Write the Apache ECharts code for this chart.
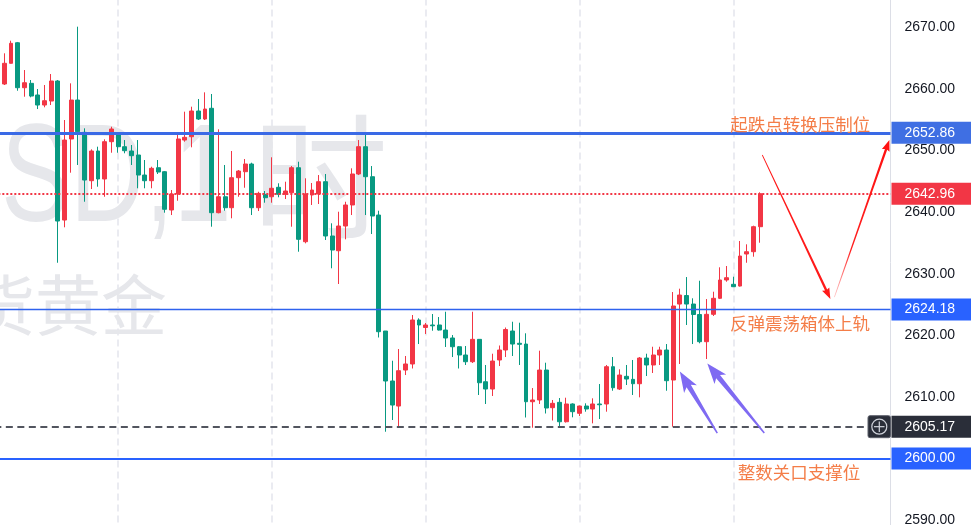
<!DOCTYPE html>
<html><head><meta charset="utf-8">
<script src="https://cdn.jsdelivr.net/npm/echarts@6/dist/echarts.min.js"></script>
<style>html,body{margin:0;padding:0;background:#fff}#c{width:971px;height:525px}</style>
</head><body><div id="c"></div>
<script>
// ---- data (XAUUSD 1H) ----
const opens = [2661.95,2660.77,2664.13,2667.47,2660.17,2660.88,2658.99,2657.36,2658.01,2661.26,
2638.70,2651.85,2658.17,2652.93,2645.08,2649.90,2645.36,2651.41,2652.49,2650.60,
2649.90,2649.25,2646.00,2645.08,2647.19,2646.54,2640.33,2642.92,2651.68,2652.22,
2656.39,2655.09,2656.83,2639.89,2642.48,2640.70,2645.57,2646.54,2647.79,2640.70,
2642.87,2642.48,2644.01,2642.87,2643.13,2647.19,2635.18,2642.76,2642.92,2644.92,
2636.11,2633.72,2637.73,2641.14,2646.17,2650.60,2645.73,2639.51,2620.69,2612.58,
2608.52,2614.36,2615.34,2622.48,2621.26,2621.67,2621.67,2620.85,2619.56,2618.14,
2616.80,2615.71,2619.34,2612.46,2611.28,2615.99,2617.61,2620.69,2618.70,2618.58,
2609.22,2609.50,2614.36,2608.25,2609.12,2605.97,2608.85,2607.34,2608.52,2608.04,
2608.85,2608.85,2614.90,2611.28,2613.34,2612.85,2612.14,2616.31,2615.18,2616.80,
2617.61,2612.74,2625.07,2626.45,2625.07,2623.37,2618.96,2623.40,2626.00,2628.97,
2628.27,2627.99,2633.19,2633.56,2637.62];
const closes = [2660.98,2664.13,2667.37,2660.17,2660.98,2658.82,2657.36,2658.06,2661.26,2638.54,
2651.68,2658.17,2653.03,2645.19,2649.90,2645.36,2651.41,2653.47,2650.60,2649.95,
2649.14,2646.00,2645.08,2647.09,2646.49,2640.44,2642.92,2651.85,2652.12,2656.39,
2655.09,2656.71,2639.89,2642.48,2640.70,2645.57,2646.65,2647.79,2640.70,2643.03,
2642.32,2643.85,2642.87,2643.41,2647.19,2635.57,2642.92,2643.57,2644.92,2636.11,
2633.83,2637.73,2641.14,2646.17,2650.60,2645.73,2639.35,2620.58,2612.58,2608.68,
2614.25,2615.34,2622.48,2621.67,2621.67,2621.54,2620.85,2619.56,2618.14,2616.80,
2615.71,2619.34,2612.30,2611.28,2615.82,2617.61,2620.94,2618.58,2618.53,2609.22,
2609.50,2614.36,2608.20,2608.96,2605.97,2608.85,2607.60,2608.52,2608.04,2608.85,
2608.73,2614.90,2611.49,2613.55,2612.90,2612.14,2616.31,2615.18,2616.80,2617.61,
2612.63,2624.75,2626.53,2625.07,2623.37,2618.96,2623.40,2626.00,2628.97,2629.34,
2627.88,2632.86,2633.56,2637.62,2642.96];
const lows = [2660.45,2660.61,2664.10,2659.68,2658.71,2658.61,2656.71,2656.99,2657.36,2631.77,
2637.52,2646.38,2647.63,2641.67,2643.73,2644.11,2642.48,2649.62,2649.62,2649.53,
2647.63,2643.85,2643.85,2643.85,2646.17,2639.89,2639.51,2641.83,2651.41,2650.50,
2654.93,2654.93,2637.62,2639.79,2640.21,2638.98,2642.48,2643.94,2639.51,2640.16,
2641.51,2641.51,2642.39,2642.11,2637.62,2633.56,2634.92,2641.14,2641.30,2635.46,
2630.87,2628.32,2635.57,2639.51,2646.00,2639.51,2636.43,2619.64,2604.35,2606.25,
2605.16,2613.55,2614.61,2618.58,2620.21,2620.74,2620.77,2618.10,2616.47,2614.61,
2615.18,2615.50,2610.31,2608.85,2610.15,2615.01,2616.47,2616.64,2615.18,2606.66,
2605.00,2608.85,2607.31,2606.17,2605.05,2605.84,2606.69,2606.90,2607.60,2605.71,
2606.41,2607.60,2611.00,2611.12,2611.93,2610.31,2609.93,2613.39,2613.88,2615.18,
2611.00,2605.17,2615.34,2621.67,2618.58,2618.70,2616.15,2623.13,2625.88,2628.69,
2627.83,2627.91,2631.77,2632.75,2635.02];
const highs = [2662.39,2665.75,2667.80,2667.59,2663.04,2661.42,2659.96,2660.61,2662.39,2661.42,
2654.93,2660.88,2670.07,2653.58,2650.17,2650.60,2651.80,2653.84,2652.77,2651.68,
2650.87,2651.68,2648.44,2647.35,2648.44,2646.65,2643.57,2652.49,2656.28,2657.09,
2658.34,2659.42,2659.15,2653.42,2647.63,2649.90,2646.82,2648.60,2648.00,2643.29,
2643.41,2648.88,2644.66,2644.92,2647.46,2648.16,2645.47,2644.71,2646.00,2646.17,
2638.17,2640.05,2641.67,2647.09,2651.68,2652.82,2647.46,2640.21,2620.69,2615.87,
2617.77,2616.64,2623.29,2622.75,2621.99,2623.45,2622.96,2623.82,2620.04,2618.26,
2618.26,2623.82,2619.39,2615.18,2617.01,2618.34,2621.26,2622.20,2622.04,2620.32,
2611.44,2617.50,2615.55,2609.50,2609.82,2609.87,2608.96,2608.60,2608.96,2609.77,
2612.09,2615.18,2616.47,2614.48,2615.18,2615.99,2616.47,2617.01,2618.14,2618.14,
2618.58,2627.02,2627.56,2629.45,2626.00,2628.85,2625.88,2627.07,2631.03,2631.24,
2629.50,2635.30,2634.76,2637.78,2643.20];
// hourly slots (gold trades 23 bars per day); extra empty slots on the right
const categories = [];
for (let k = 0; k < 134; k++) categories.push('bar' + k);
const dayStartIdx = [18, 41, 64, 87, 110];
// price levels drawn as horizontal lines
const levelResist = 2652.86, levelLast = 2642.96, levelBox = 2624.18, levelCross = 2605.17, levelRound = 2600.00;
// annotations, in data space [bar index, price]
const annotTexts = [
  {text: '起跌点转换压制位', i: 120.0, p: 2654.30},
  {text: '反弹震荡箱体上轨', i: 119.95, p: 2621.94},
  {text: '整数关口支撑位', i: 119.8, p: 2597.81}
];
const redArrows = [[114.33, 2649.25, 124.51, 2625.88], [125.11, 2626.21, 133.33, 2651.68]];
const purpleArrows = [[107.6, 2604.14, 102.0, 2614.12], [114.63, 2604.14, 106.11, 2615.42]];

const chart = echarts.init(document.getElementById('c'));
const candleData = opens.map((o, k) => [o, closes[k], lows[k], highs[k]]);
const FONT = 'Liberation Sans, Arial, sans-serif';
function lvl(v, lineColor, width, type, boxColor) {
  return {
    yAxis: v,
    lineStyle: {color: lineColor, width: width, type: type},
    label: {show: true, position: 'end', distance: 1, formatter: () => v.toFixed(2),
      color: '#ffffff', backgroundColor: boxColor, padding: [4, 18, 4, 13],
      fontSize: 14, lineHeight: 14, fontFamily: FONT}
  };
}
chart.setOption({
  animation: false,
  backgroundColor: '#ffffff',
  grid: {left: -5.67, right: 80.5, top: -34.5, bottom: -56.8, outerBoundsMode: 'none', containLabel: false},
  xAxis: {
    type: 'category', data: categories, boundaryGap: true,
    axisLine: {show: false}, axisTick: {show: false, alignWithLabel: true}, axisLabel: {show: false},
    splitLine: {show: true, alignWithLabel: true, interval: (idx) => dayStartIdx.indexOf(idx) >= 0,
      lineStyle: {color: '#e3e5ed', width: 1.5, type: [7, 4]}}
  },
  yAxis: {
    type: 'value', position: 'right', min: 2580, max: 2680, interval: 10,
    axisLine: {show: true, lineStyle: {color: '#dcdee6', width: 1}},
    axisTick: {show: false}, splitLine: {show: false},
    axisLabel: {formatter: v => v.toFixed(2), color: '#131722', fontSize: 14, fontFamily: FONT, margin: 14}
  },
  series: [{
    type: 'candlestick', data: candleData, barWidth: 4.4,
    itemStyle: {color: '#f23645', color0: '#089981', borderColor: '#f23645', borderColor0: '#089981', borderWidth: 1},
    markLine: {
      silent: true, symbol: ['none', 'none'], animation: false,
      data: [
        lvl(levelResist, '#3a6ae6', 3, 'solid', '#3f6fe3'),
        lvl(levelLast, '#f23645', 2, [2, 2], '#f23645'),
        lvl(levelBox, '#2e62ee', 1.3, 'solid', '#2962ff'),
        lvl(levelCross, '#52555f', 2, [7, 4.5], '#2a2e39'),
        lvl(levelRound, '#2962ff', 2, 'solid', '#2962ff')
      ]
    }
  }]
});

// ---- overlay graphics positioned through the chart's own scales ----
const xa = chart.convertToPixel({xAxisIndex: 0}, 0);
const xb = chart.convertToPixel({xAxisIndex: 0}, 100);
const px = i => xa + (xb - xa) * i / 100;
const py = p => chart.convertToPixel({yAxisIndex: 0}, p);

function arrowPoly(x1, y1, x2, y2, w1, w2, L, H, notch) {
  const dx = x2 - x1, dy = y2 - y1, len = Math.hypot(dx, dy);
  const ux = dx / len, uy = dy / len, nx = -uy, ny = ux;
  const bx = x2 - ux * L, by = y2 - uy * L;
  return [
    [x1 + nx * w1 / 2, y1 + ny * w1 / 2],
    [bx + nx * w2 / 2, by + ny * w2 / 2],
    [bx - ux * notch + nx * H, by - uy * notch + ny * H],
    [x2, y2],
    [bx - ux * notch - nx * H, by - uy * notch - ny * H],
    [bx - nx * w2 / 2, by - ny * w2 / 2],
    [x1 - nx * w1 / 2, y1 - ny * w1 / 2]
  ];
}
const g = [];
// watermark
const WM = '#e6e7eb';
g.push({type: 'text', x: 1, y: 182, scaleX: 0.74, z: 0, silent: true,
  style: {text: 'SD,1', fill: WM, fontSize: 140, fontFamily: FONT, align: 'left', verticalAlign: 'middle'}});
g.push({type: 'text', x: 320, y: 177, z: 0, silent: true,
  style: {text: '时', fill: WM, fontSize: 136, fontFamily: 'Noto Sans CJK SC', align: 'center', verticalAlign: 'middle'}});
g.push({type: 'text', x: 167, y: 305, z: 0, silent: true,
  style: {text: '现货黄金', fill: WM, fontSize: 66, fontFamily: 'Noto Sans CJK SC', align: 'right', verticalAlign: 'middle'}});
// annotation texts
annotTexts.forEach(a => g.push({type: 'text', x: px(a.i), y: py(a.p), z: 100, silent: true,
  style: {text: a.text, fill: '#f47d48', fontSize: 17.5, fontFamily: 'Noto Sans CJK SC', align: 'center', verticalAlign: 'middle'}}));
// red arrows
redArrows.forEach((a, k) => {
  const pts = arrowPoly(px(a[0]), py(a[1]), px(a[2]), py(a[3]), 0.8, 2.4, 10, 4, 1);
  const fill = k === 1
    ? {type: 'linear', x: 0, y: 1, x2: 0, y2: 0, colorStops: [{offset: 0, color: 'rgba(255,40,40,0.25)'}, {offset: 0.3, color: '#ff2020'}, {offset: 1, color: '#ff1010'}]}
    : '#ff1a1a';
  g.push({type: 'polygon', z: 100, silent: true, shape: {points: pts}, style: {fill: fill}});
});
// purple arrows
purpleArrows.forEach(a => {
  const pts = arrowPoly(px(a[0]), py(a[1]), px(a[2]), py(a[3]), 1.5, 5, 17, 7.5, 3.5);
  g.push({type: 'polygon', z: 100, silent: true, shape: {points: pts}, style: {fill: '#7f6af2'}});
});
// crosshair icon at the left of the price scale
const yc = py(levelCross), xr = chart.convertToPixel({xAxisIndex: 0}, 133) + (xb - xa) / 200;
g.push({type: 'rect', z: 100, silent: true, shape: {x: xr - 22.5, y: yc - 11, width: 22.5, height: 22, r: 2},
  style: {fill: '#2a2e39', stroke: '#5d606b', lineWidth: 1}});
g.push({type: 'circle', z: 101, silent: true, shape: {cx: xr - 11.2, cy: yc, r: 7.5}, style: {fill: 'none', stroke: '#d1d4dc', lineWidth: 1.2}});
g.push({type: 'line', z: 101, silent: true, shape: {x1: xr - 16.5, y1: yc, x2: xr - 6, y2: yc}, style: {stroke: '#d1d4dc', lineWidth: 1.2}});
g.push({type: 'line', z: 101, silent: true, shape: {x1: xr - 11.2, y1: yc - 5.3, x2: xr - 11.2, y2: yc + 5.3}, style: {stroke: '#d1d4dc', lineWidth: 1.2}});
chart.setOption({graphic: g});
</script></body></html>
